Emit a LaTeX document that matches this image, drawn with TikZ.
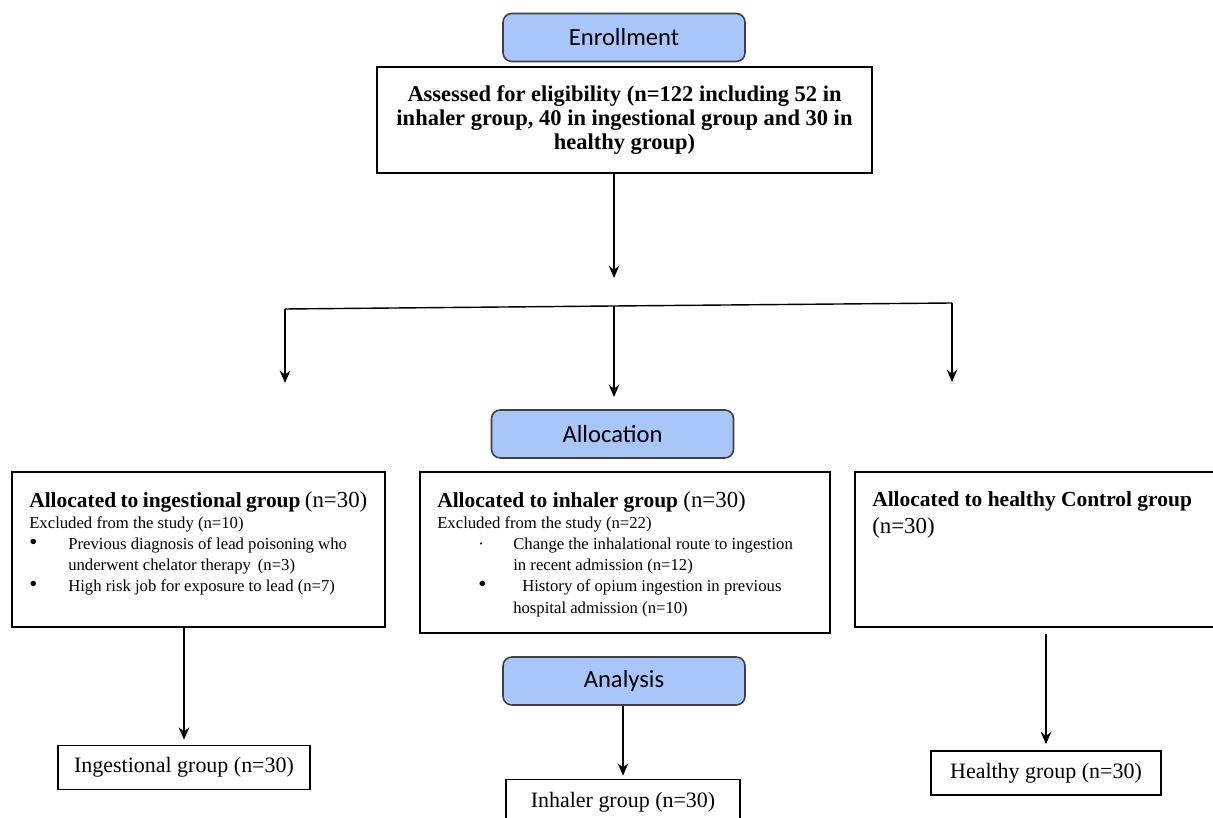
\documentclass[tikz,border=0pt]{standalone}
\usepackage{fontspec}
\setmainfont{Liberation Serif}
\newfontfamily\calibri{Carlito}
\usepackage{tkz-euclide}
\usetikzlibrary{arrows.meta}
\definecolor{phaseblue}{RGB}{168,198,250}
\tikzset{>={Stealth[length=7pt,width=6pt]}}
\tikzset{
  phase/.style={draw=black!75, fill=phaseblue, rounded corners=5pt, line width=0.9pt,
    minimum width=4.84cm, minimum height=0.96cm, font=\calibri\fontsize{14}{16}\selectfont},
  groupbox/.style={draw, line width=0.9pt, anchor=north west, inner xsep=0.35cm, inner ysep=0.4cm},
  result/.style={draw, line width=0.9pt, minimum height=0.88cm, font=\fontsize{12.5}{14}\selectfont},
}
\newcommand{\headtext}{\fontsize{12.2}{14}\selectfont}
\newcommand{\smalltext}{\fontsize{9.5}{12}\selectfont}
\newcommand{\bigdot}{{\fontsize{13}{12}\selectfont\textbullet}}

\begin{document}
\begin{tikzpicture}[line width=0.8pt]
    \path[fill=white] (0,0) rectangle (24.26,16.34);
    \useasboundingbox (0,0) rectangle (24.26,16.34);
    \tkzDefPoints{12.28/10.78/S, 5.70/10.16/L, 12.28/10.22/M, 19.04/10.28/R,
      5.70/8.68/Lt, 12.28/8.40/Mt, 19.04/8.70/Rt}

    % enrollment
    \node[phase] (enrol) at (12.48,15.59) {Enrollment};
    \node[draw, line width=0.9pt, minimum width=9.9cm, minimum height=2.12cm, align=center,
      font=\bfseries\fontsize{12.8}{13.8}\selectfont] (elig) at (12.49,13.94)
      {Assessed for eligibility (n=122 including 52 in\\
       inhaler group, 40 in ingestional group and 30 in\\
       healthy group)};
    \draw[->] (elig.south -| S) -- (S);
    \draw (L) -- (M) -- (R);
    \draw[->] (L) -- (Lt);
    \draw[->] (M) -- (Mt);
    \draw[->] (R) -- (Rt);

    % allocation
    \node[phase] (alloc) at (12.25,7.66) {Allocation};
    \node[groupbox] (ingb) at (0.22,6.92) {%
      \begin{minipage}[t][2.30cm][t]{6.76cm}
      {\headtext\textbf{Allocated to ingestional group} {\fontsize{13}{14}\selectfont(n=30)}\par}
      \smalltext Excluded from the study (n=10)\par
      \noindent\makebox[0.78cm][l]{\bigdot}Previous diagnosis of lead poisoning who\\
      \hspace*{0.78cm}underwent chelator therapy\, (n=3)\par
      \noindent\makebox[0.78cm][l]{\bigdot}High risk job for exposure to lead (n=7)\par
      \end{minipage}};
    \node[groupbox] (inhb) at (8.38,6.92) {%
      \begin{minipage}[t][2.42cm][t]{7.50cm}
      {\headtext\textbf{Allocated to inhaler group} {\fontsize{13}{14}\selectfont(n=30)}\par}
      \smalltext Excluded from the study (n=22)\par
      \noindent\hspace*{0.82cm}\makebox[0.70cm][l]{\textperiodcentered}Change the inhalational route to ingestion\\
      \hspace*{1.52cm}in recent admission (n=12)\par
      \noindent\hspace*{0.82cm}\makebox[0.70cm][l]{\bigdot}\hspace*{0.18cm}History of opium ingestion in previous\\
      \hspace*{1.52cm}hospital admission (n=10)\par
      \end{minipage}};
    \node[groupbox] (ctrlb) at (17.08,6.92) {%
      \begin{minipage}[t][2.30cm][t]{6.54cm}
      {\headtext\textbf{Allocated to healthy Control group}\\[1pt]
       {\fontsize{13}{14}\selectfont(n=30)}\par}
      \end{minipage}};

    % analysis
    \node[phase] (anal) at (12.48,2.72) {Analysis};
    \node[result, minimum width=5.04cm] (ing) at (3.68,0.99) {Ingestional group (n=30)};
    \node[result, minimum width=4.68cm, minimum height=0.90cm] (inh) at (12.46,0.30) {Inhaler group (n=30)};
    \node[result, minimum width=4.60cm] (hea) at (20.92,0.88) {Healthy group (n=30)};
    \draw[->, shorten >=0.1cm] (ing.north |- ingb.south) -- (ing.north);
    \draw[->, shorten >=0.06cm] (inh.north |- anal.south) -- (inh.north);
    \draw[->, shorten <=0.12cm, shorten >=0.12cm] (hea.north |- ctrlb.south) -- (hea.north);
\end{tikzpicture}
\end{document}
